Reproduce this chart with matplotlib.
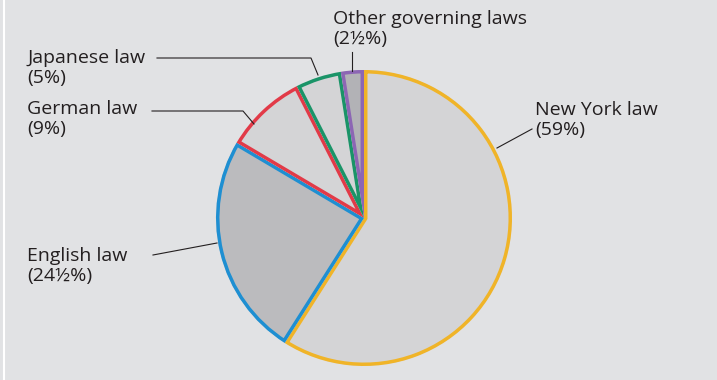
import matplotlib
matplotlib.use("Agg")
import matplotlib.pyplot as plt

# data
laws = ["New York law", "English law", "German law", "Japanese law", "Other governing laws"]
shares = [59, 24.5, 9, 5, 2.5]
share_labels = ["(59%)", "(24½%)", "(9%)", "(5%)", "(2½%)"]

fills = ["#d4d4d6", "#bbbbbe", "#d4d4d6", "#d4d4d6", "#b2b2b6"]
edges = ["#f0b428", "#1e8fd2", "#e23a48", "#1a9468", "#8c66b4"]

# label layout (pixel coords, y down): text anchor and leader line points
text_pos = [(535, 101), (27, 247), (27, 100), (27, 49), (333, 10)]
leaders = [
    [(532, 129), (497, 148)],
    [(153, 255), (217, 243)],
    [(152, 111), (243, 111), (254, 124)],
    [(157, 58), (311, 58), (318, 75)],
    [(352, 52), (352, 71)],
]

bg = "#e1e2e4"
plt.rcParams["font.family"] = ["Open Sans", "DejaVu Sans"]

fig = plt.figure(figsize=(7.17, 3.80), dpi=100, facecolor=bg)
ax = fig.add_axes([0, 0, 1, 1])
ax.set_facecolor(bg)

wedges, _ = ax.pie(shares, colors=fills, startangle=-90, counterclock=True,
                   center=(364, 218), radius=148, frame=True)
for w, ec in zip(wedges, edges):
    # stroke drawn only inside each wedge
    w.set_edgecolor(ec)
    w.set_linewidth(5)
    w.set_clip_on(True)
    w.set_clip_path(w)

for (tx, ty), name, pct in zip(text_pos, laws, share_labels):
    ax.text(tx, ty, name + "\n" + pct, ha="left", va="top", fontsize=14,
            color="#231f20", linespacing=1.12)

for pts in leaders:
    xs = [p[0] for p in pts]
    ys = [p[1] for p in pts]
    ax.plot(xs, ys, color="#231f20", lw=0.8)

# thin white rule on the left edge
ax.plot([4, 4], [0, 380], color="white", lw=1.5)

ax.set_xlim(0, 717)
ax.set_ylim(380, 0)
ax.set_aspect("equal", adjustable="datalim")
ax.axis("off")

fig.savefig("out.png", dpi=100, facecolor=bg)
